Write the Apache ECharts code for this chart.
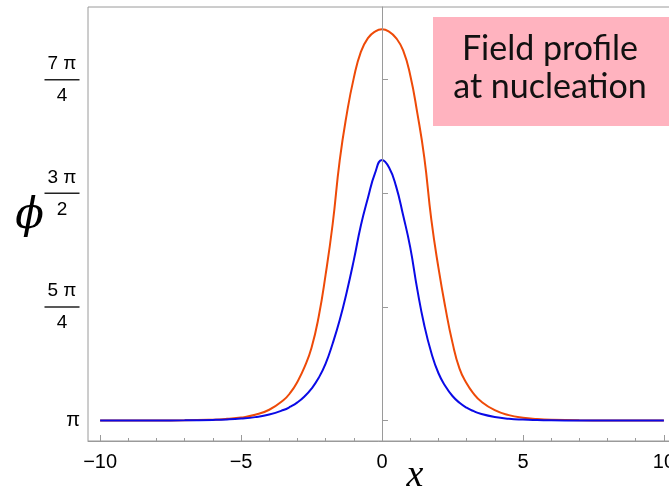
<!DOCTYPE html>
<html>
<head>
<meta charset="utf-8">
<script src="https://cdn.jsdelivr.net/npm/echarts@6/dist/echarts.min.js"></script>
<style>
  html, body { margin: 0; padding: 0; background: #fff; }
  #chart { width: 669px; height: 491px; }
</style>
</head>
<body>
<div id="chart"></div>
<script>
// Sample positions along x
const xValues = [-10, -8, -7, -6, -5.5, -5, -4.5, -4, -3.5, -3.25, -3, -2.75, -2.5, -2.25, -2, -1.75, -1.5, -1.25, -1, -0.75, -0.5, -0.25,
  0, 0.25, 0.5, 0.75, 1, 1.25, 1.5, 1.75, 2, 2.25, 2.5, 2.75, 3, 3.25, 3.5, 4, 4.5, 5, 5.5, 6, 7, 8, 10];

// Field value phi(x) for the taller (orange) profile
const orangeProfile = [3.1416, 3.142, 3.143, 3.1476, 3.153, 3.162, 3.181, 3.216, 3.282, 3.334, 3.41, 3.51, 3.645, 3.855, 4.15, 4.50, 4.94, 5.26, 5.51, 5.69, 5.785, 5.83,
  5.846, 5.83, 5.785, 5.70, 5.53, 5.27, 4.96, 4.53, 4.20, 3.92, 3.68, 3.50, 3.399, 3.328, 3.276, 3.213, 3.179, 3.161, 3.152, 3.147, 3.143, 3.142, 3.1416];

// Field value phi(x) for the lower (blue) profile
const blueProfile = [3.1416, 3.142, 3.143, 3.146, 3.149, 3.155, 3.165, 3.183, 3.214, 3.237, 3.267, 3.308, 3.362, 3.435, 3.535, 3.674, 3.836, 4.03, 4.25, 4.49, 4.68, 4.85,
  4.942, 4.89, 4.76, 4.56, 4.34, 4.05, 3.80, 3.61, 3.47, 3.378, 3.311, 3.264, 3.23, 3.206, 3.188, 3.166, 3.154, 3.148, 3.145, 3.1434, 3.142, 3.1416, 3.1416];

// Axis ticks
const yTickValues = [Math.PI, 5 * Math.PI / 4, 3 * Math.PI / 2, 7 * Math.PI / 4];
const yTickLabels = [['π'], ['5 π', '4'], ['3 π', '2'], ['7 π', '4']];
const xMajorTicks = [-10, -5, 0, 5, 10];
const xMinorTicks = [-10, -9, -8, -7, -6, -5, -4, -3, -2, -1, 0, 1, 2, 3, 4, 5, 6, 7, 8, 9, 10];

const frameColor = '#9a9a9a';
const tickFont = 'Liberation Sans';

function pairs(ys) {
  return xValues.map((x, i) => [x, ys[i]]);
}

function yLabel(v) {
  const i = yTickValues.findIndex(t => Math.abs(t - v) < 1e-6);
  if (i < 0) return '';
  const parts = yTickLabels[i];
  if (parts.length === 1) return '{p|' + parts[0] + '}';
  return '{n|' + parts[0] + '}\n{bar|}\n{n|' + parts[1] + '}';
}

const chart = echarts.init(document.getElementById('chart'), null, { renderer: 'canvas' });

chart.setOption({
  animation: false,
  backgroundColor: '#ffffff',
  grid: {
    left: 88, top: 7, width: 588, height: 434,
    outerBoundsMode: 'none', containLabel: false,
    show: true, borderColor: frameColor, borderWidth: 1, backgroundColor: 'transparent'
  },
  xAxis: [
    {
      type: 'value', min: -10.43, max: 10.43,
      axisLine: { show: true, lineStyle: { color: frameColor, width: 1 } },
      axisTick: { show: true, inside: true, length: 6, customValues: xMajorTicks, lineStyle: { color: frameColor } },
      axisLabel: {
        customValues: xMajorTicks, margin: 11, color: '#000', fontSize: 20, fontFamily: tickFont,
        formatter: v => String(v).replace('-', '\u2212')
      },
      splitLine: { show: false },
      name: 'x', nameLocation: 'middle', nameGap: 16, nameMoveOverlap: false,
      nameTextStyle: { fontFamily: 'Liberation Serif', fontStyle: 'italic', fontSize: 38, color: '#000', padding: [0, 0, 0, 66] }
    },
    {
      type: 'value', min: -10.43, max: 10.43, position: 'bottom',
      axisLine: { show: false },
      axisTick: { show: true, inside: true, length: 3, customValues: xMinorTicks, lineStyle: { color: frameColor } },
      axisLabel: { show: false },
      splitLine: { show: false }
    }
  ],
  yAxis: {
    type: 'value', min: 3, max: 6,
    axisLine: { show: true, lineStyle: { color: frameColor, width: 1 } },
    axisTick: { show: true, inside: true, length: 6, customValues: yTickValues, lineStyle: { color: frameColor } },
    axisLabel: {
      customValues: yTickValues, margin: 8, color: '#000', fontFamily: tickFont,
      formatter: yLabel,
      rich: {
        p: { fontSize: 20, fontFamily: tickFont, color: '#000' },
        n: { fontSize: 19, fontFamily: tickFont, color: '#000', lineHeight: 24, width: 36, align: 'center' },
        bar: { width: 35, height: 1.5, lineHeight: 8, backgroundColor: '#222', align: 'center' }
      }
    },
    splitLine: { show: false },
    name: '{phi|\u03D5}\n{gap|}', nameLocation: 'middle', nameRotate: 0, nameGap: 44, nameMoveOverlap: false,
    nameTextStyle: {
      color: '#000',
      rich: {
        phi: { fontFamily: 'DejaVu Serif', fontStyle: 'italic', fontSize: 42, lineHeight: 46, color: '#000' },
        gap: { height: 14, lineHeight: 14 }
      }
    }
  },
  graphic: [
    {
      type: 'rect', left: 433, top: 17, z: 10,
      shape: { width: 240, height: 109 },
      style: { fill: '#FFB3BF' }
    },
    {
      type: 'text', x: 550, y: 68, z: 11,
      style: {
        text: 'Field profile\nat nucleation',
        font: '34px Lato', fill: '#111',
        textAlign: 'center', textVerticalAlign: 'middle', lineHeight: 38
      }
    }
  ],
  series: [
    {
      type: 'line', name: 'profile 1', data: pairs(orangeProfile),
      showSymbol: false, smooth: 0.5,
      lineStyle: { color: '#EE4A08', width: 2 },
      markLine: {
        silent: true, symbol: 'none', label: { show: false },
        lineStyle: { color: '#9a9a9a', width: 1, type: 'solid' },
        data: [{ xAxis: 0 }]
      }
    },
    {
      type: 'line', name: 'profile 2', data: pairs(blueProfile),
      showSymbol: false, smooth: 0.5,
      lineStyle: { color: '#0A0AE6', width: 2 }
    }
  ]
});
</script>
</body>
</html>
